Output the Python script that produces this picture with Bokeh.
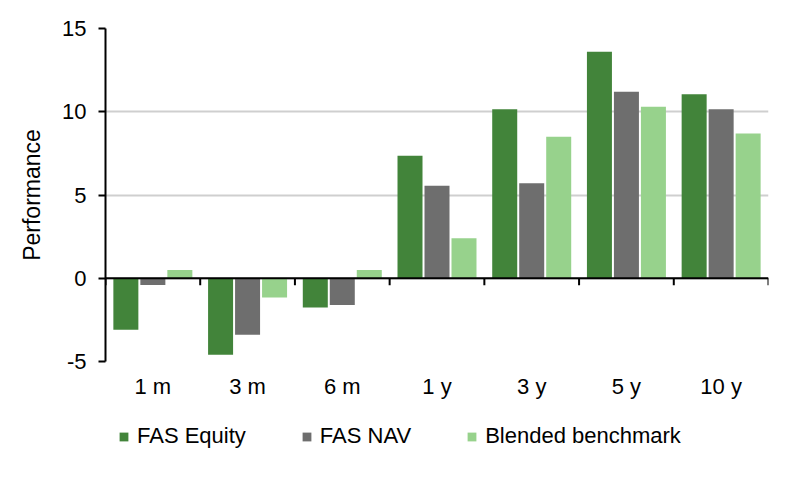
from bokeh.plotting import figure
from bokeh.layouts import column
from bokeh.models import Range1d, FixedTicker, LinearAxis, Legend, LegendItem, ColumnDataSource, Span
from bokeh.embed import file_html
from bokeh.resources import INLINE

periods = ["1 m", "3 m", "6 m", "1 y", "3 y", "5 y", "10 y"]
fas_equity = [-3.1, -4.6, -1.75, 7.35, 10.15, 13.6, 11.05]
fas_nav = [-0.4, -3.4, -1.6, 5.55, 5.7, 11.2, 10.15]
blended = [0.5, -1.15, 0.5, 2.4, 8.5, 10.3, 8.7]
series_names = ["FAS Equity", "FAS NAV", "Blended benchmark"]
series_values = [fas_equity, fas_nav, blended]
colors = ["#42843A", "#6E6E6E", "#97D28C"]
y_ticks = [-5, 0, 5, 10, 15]

FONT = "Liberation Sans"
n = len(periods)

W = 792
H_MAIN, H_LEG = 418, 54
BL, BR, BT, BB = 105, 24, 28, 57
y0, y1 = -5, 15

p = figure(width=W, height=H_MAIN, x_range=Range1d(0, n), y_range=Range1d(y0, y1),
           output_backend="svg", toolbar_location=None, x_axis_location=None,
           min_border_left=BL, min_border_right=BR, min_border_top=BT, min_border_bottom=BB)
p.outline_line_color = None
p.background_fill_color = "white"

bar_w = 0.264
step = 0.285
sources = []
for k, (name, vals, col) in enumerate(zip(series_names, series_values, colors)):
    src = ColumnDataSource(dict(x=[i + 0.5 + (k - 1) * step for i in range(n)], top=vals))
    sources.append(src)
    p.vbar(x="x", top="top", bottom=0, width=bar_w, source=src,
           fill_color=col, line_color=None)

# y axis
yax = p.yaxis[0]
yax.ticker = FixedTicker(ticks=y_ticks)
yax.major_label_overrides = {t: str(t) for t in y_ticks}
yax.axis_line_color = "black"
yax.axis_line_width = 2
yax.major_tick_line_color = "black"
yax.major_tick_line_width = 2
yax.major_tick_out = 7
yax.major_tick_in = 0
yax.minor_tick_line_color = None
yax.major_label_text_font = FONT
yax.major_label_text_font_size = "22px"
yax.major_label_text_color = "black"
yax.major_label_standoff = 12
yax.axis_label = "Performance"
yax.axis_label_text_font = FONT
yax.axis_label_text_font_size = "23px"
yax.axis_label_text_font_style = "normal"
yax.axis_label_text_color = "black"
yax.axis_label_standoff = 14

p.ygrid.ticker = FixedTicker(ticks=y_ticks)
p.ygrid.grid_line_color = "#CFCFCF"
p.ygrid.grid_line_width = 2
p.xgrid.visible = False

# category label axis at bottom
cat_axis = LinearAxis(ticker=FixedTicker(ticks=[i + 0.5 for i in range(n)]),
                      major_label_overrides={i + 0.5: periods[i] for i in range(n)},
                      axis_line_color=None, major_tick_line_color=None,
                      minor_tick_line_color=None, major_label_standoff=6,
                      major_label_text_font=FONT, major_label_text_font_size="22px",
                      major_label_text_color="black")
p.add_layout(cat_axis, "below")

# zero line with category-boundary ticks
p.add_layout(Span(location=0, dimension="width", line_color="black", line_width=2))
frame_h = H_MAIN - BT - BB
tick_len = 7 * (y1 - y0) / frame_h
p.segment(x0=list(range(n + 1)), x1=list(range(n + 1)),
          y0=[0] * (n + 1), y1=[-tick_len] * (n + 1), line_color="black", line_width=2)

# legend strip (frame aligned with the main chart by the column layout)
lg = figure(width=W, height=H_LEG, x_range=Range1d(0, n), y_range=Range1d(y0, y1),
            output_backend="svg", toolbar_location=None,
            x_axis_location=None, y_axis_location=None,
            min_border_left=0, min_border_right=0, min_border_top=0, min_border_bottom=0)
lg.outline_line_color = None
lg.xgrid.visible = False
lg.ygrid.visible = False
items = []
for name, col, src in zip(series_names, colors, sources):
    r = lg.vbar(x="x", top="top", bottom=0, width=bar_w, source=src,
                fill_color=col, line_color=None, visible=False)
    items.append(LegendItem(label=name, renderers=[r]))
legend = Legend(items=items, orientation="horizontal", location=(13, 23),
                border_line_color=None, background_fill_alpha=0,
                inactive_fill_alpha=0,
                glyph_width=11, glyph_height=11, label_standoff=8, spacing=55,
                padding=0, margin=0, label_text_font=FONT, label_text_font_size="22px",
                label_text_color="black")
lg.add_layout(legend, "center")

layout = column(p, lg, spacing=0)
open("out.html", "w").write(file_html(layout, INLINE))
